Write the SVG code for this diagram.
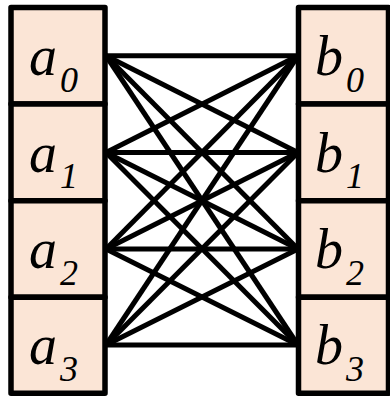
<svg xmlns="http://www.w3.org/2000/svg" width="390" height="397" viewBox="0 0 390 397">
<style>
.cell{fill:#fbe5d6;stroke:#000;stroke-width:5.5;stroke-linejoin:round}
#edges line{stroke:#000;stroke-width:5;stroke-linecap:butt}
text{font-family:"Liberation Serif","Times New Roman",serif;font-style:italic;font-size:56px;fill:#000}
tspan{font-size:36px}
</style>
<rect width="390" height="397" fill="#fff"/>
<g id="edges">
<line x1="106" y1="55.75" x2="298" y2="55.75"/>
<line x1="106" y1="55.75" x2="298" y2="152.5"/>
<line x1="106" y1="55.75" x2="298" y2="249"/>
<line x1="106" y1="55.75" x2="298" y2="345"/>
<line x1="106" y1="152.5" x2="298" y2="55.75"/>
<line x1="106" y1="152.5" x2="298" y2="152.5"/>
<line x1="106" y1="152.5" x2="298" y2="249"/>
<line x1="106" y1="152.5" x2="298" y2="345"/>
<line x1="106" y1="249" x2="298" y2="55.75"/>
<line x1="106" y1="249" x2="298" y2="152.5"/>
<line x1="106" y1="249" x2="298" y2="249"/>
<line x1="106" y1="249" x2="298" y2="345"/>
<line x1="106" y1="345" x2="298" y2="55.75"/>
<line x1="106" y1="345" x2="298" y2="152.5"/>
<line x1="106" y1="345" x2="298" y2="249"/>
<line x1="106" y1="345" x2="298" y2="345"/>
</g>
<g id="a0"><rect class="cell" x="11" y="7.5" width="94" height="96.5"/><text x="29" y="75">a<tspan dx="3" dy="16.5">0</tspan></text></g>
<g id="a1"><rect class="cell" x="11" y="104" width="94" height="96.75"/><text x="29" y="171.75">a<tspan dx="3" dy="16.5">1</tspan></text></g>
<g id="a2"><rect class="cell" x="11" y="200.75" width="94" height="96.5"/><text x="29" y="268.25">a<tspan dx="3" dy="16.5">2</tspan></text></g>
<g id="a3"><rect class="cell" x="11" y="297.25" width="94" height="96"/><text x="29" y="364.25">a<tspan dx="3" dy="16.5">3</tspan></text></g>
<g id="b0"><rect class="cell" x="298.5" y="7.5" width="90" height="96.5"/><text x="315" y="75">b<tspan dx="3" dy="16.5">0</tspan></text></g>
<g id="b1"><rect class="cell" x="298.5" y="104" width="90" height="96.75"/><text x="315" y="171.75">b<tspan dx="3" dy="16.5">1</tspan></text></g>
<g id="b2"><rect class="cell" x="298.5" y="200.75" width="90" height="96.5"/><text x="315" y="268.25">b<tspan dx="3" dy="16.5">2</tspan></text></g>
<g id="b3"><rect class="cell" x="298.5" y="297.25" width="90" height="96"/><text x="315" y="364.25">b<tspan dx="3" dy="16.5">3</tspan></text></g>
</svg>
